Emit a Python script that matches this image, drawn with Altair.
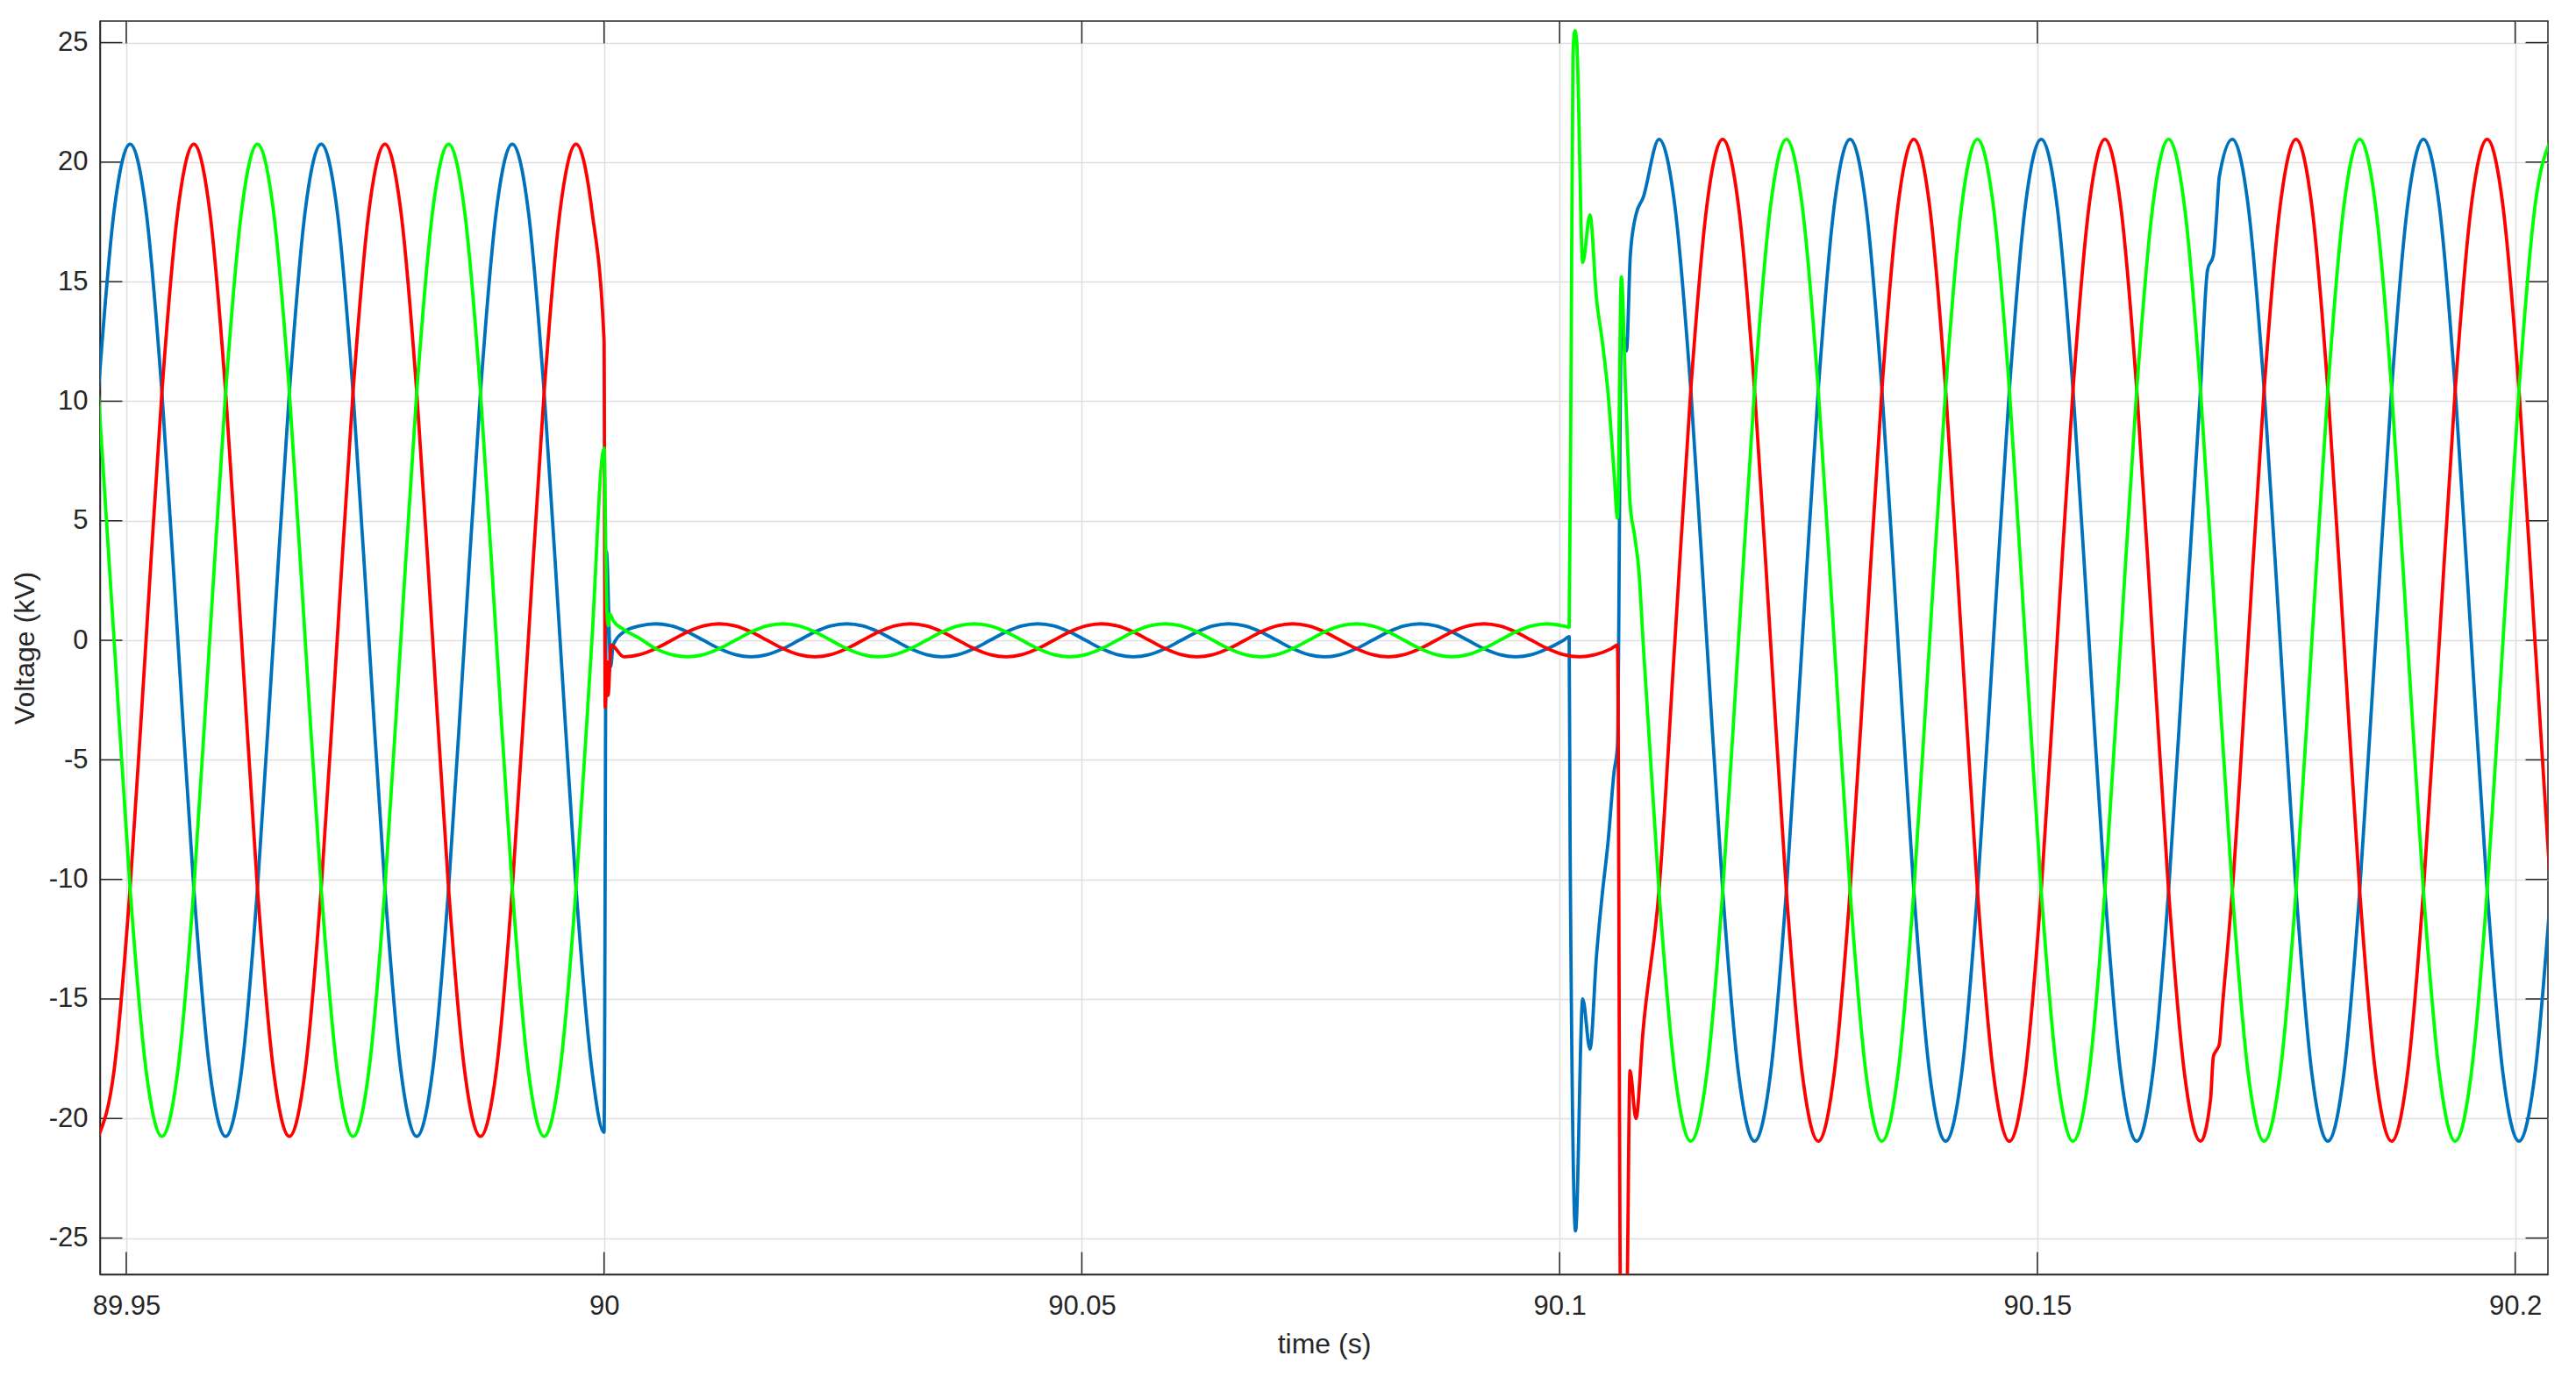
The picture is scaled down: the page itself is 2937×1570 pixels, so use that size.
import altair as alt
import pandas as pd

# ---------------- axis ticks ----------------
X_TICKS = [89.95, 90.0, 90.05, 90.1, 90.15, 90.2]
Y_TICKS = [-25, -20, -15, -10, -5, 0, 5, 10, 15, 20, 25]
X_DOMAIN = [89.94725, 90.20343]
Y_DOMAIN = [-26.52, 25.9]

# ---------------- sample times (s) ----------------
GRID_PRE_T = [89.94707, 89.94873, 89.95040, 89.95207, 89.95373, 89.95540, 89.95707, 89.95873,
              89.96040, 89.96207, 89.96373, 89.96540, 89.96707, 89.96873, 89.97040, 89.97207,
              89.97373, 89.97540, 89.97707, 89.97873, 89.98040, 89.98207, 89.98373, 89.98540,
              89.98707, 89.98873, 89.99040, 89.99207, 89.99373, 89.99540, 89.99707, 89.99873]

GRID_INT_T = [90.00207, 90.00373, 90.00540, 90.00707, 90.00873, 90.01040, 90.01207, 90.01373,
              90.01540, 90.01707, 90.01873, 90.02040, 90.02207, 90.02373, 90.02540, 90.02707,
              90.02873, 90.03040, 90.03207, 90.03373, 90.03540, 90.03707, 90.03873, 90.04040,
              90.04207, 90.04373, 90.04540, 90.04707, 90.04873, 90.05040, 90.05207, 90.05373,
              90.05540, 90.05707, 90.05873, 90.06040, 90.06207, 90.06373, 90.06540, 90.06707,
              90.06873, 90.07040, 90.07207, 90.07373, 90.07540, 90.07707, 90.07873, 90.08040,
              90.08207, 90.08373, 90.08540, 90.08707, 90.08873, 90.09040, 90.09207, 90.09373,
              90.09540, 90.09707, 90.09873, 90.10040]

GRID_POST_T = [90.10873, 90.11040, 90.11207, 90.11373, 90.11540, 90.11707, 90.11873, 90.12040,
               90.12207, 90.12373, 90.12540, 90.12707, 90.12873, 90.13040, 90.13207, 90.13373,
               90.13540, 90.13707, 90.13873, 90.14040, 90.14207, 90.14373, 90.14540, 90.14707,
               90.14873, 90.15040, 90.15207, 90.15373, 90.15540, 90.15707, 90.15873, 90.16040,
               90.16207, 90.16373, 90.16540, 90.16707, 90.16873, 90.17040, 90.17207, 90.17373,
               90.17540, 90.17707, 90.17873, 90.18040, 90.18207, 90.18373, 90.18540, 90.18707,
               90.18873, 90.19040, 90.19207, 90.19373, 90.19540, 90.19707, 90.19873, 90.20040,
               90.20207, 90.20373]

# ---------------- phase voltages (kV) on the sample times ----------------
BLUE_PRE = [10.38, 17.97,
            20.75, 17.97, 10.38, 0, -10.38, -17.97, -20.75, -17.97, -10.38, 0, 10.38, 17.97,
            20.75, 17.97, 10.38, 0, -10.38, -17.97, -20.75, -17.97, -10.38, 0, 10.38, 17.97,
            20.75, 17.97, 10.38, 0, -10.38, -17.97]
RED_PRE = [-20.75, -17.97,
           -10.38, 0, 10.38, 17.97, 20.75, 17.97, 10.38, 0, -10.38, -17.97, -20.75, -17.97,
           -10.38, 0, 10.38, 17.97, 20.75, 17.97, 10.38, 0, -10.38, -17.97, -20.75, -17.97,
           -10.38, 0, 10.38, 17.97, 20.75, 17.97]
GREEN_PRE = [10.38, 0,
             -10.38, -17.97, -20.75, -17.97, -10.38, 0, 10.38, 17.97, 20.75, 17.97, 10.38, 0,
             -10.38, -17.97, -20.75, -17.97, -10.38, 0, 10.38, 17.97, 20.75, 17.97, 10.38, 0,
             -10.38, -17.97, -20.75, -17.97, -10.38, 0]

BLUE_INT = [0.35, 0.60, 0.69, 0.60, 0.35,
            0, -0.35, -0.60, -0.69, -0.60, -0.35, 0, 0.35, 0.60, 0.69, 0.60, 0.35,
            0, -0.35, -0.60, -0.69, -0.60, -0.35, 0, 0.35, 0.60, 0.69, 0.60, 0.35,
            0, -0.35, -0.60, -0.69, -0.60, -0.35, 0, 0.35, 0.60, 0.69, 0.60, 0.35,
            0, -0.35, -0.60, -0.69, -0.60, -0.35, 0, 0.35, 0.60, 0.69, 0.60, 0.35,
            0, -0.35, -0.60, -0.69, -0.60, -0.35, 0]
RED_INT = [-0.69, -0.60, -0.35, 0, 0.35,
           0.60, 0.69, 0.60, 0.35, 0, -0.35, -0.60, -0.69, -0.60, -0.35, 0, 0.35,
           0.60, 0.69, 0.60, 0.35, 0, -0.35, -0.60, -0.69, -0.60, -0.35, 0, 0.35,
           0.60, 0.69, 0.60, 0.35, 0, -0.35, -0.60, -0.69, -0.60, -0.35, 0, 0.35,
           0.60, 0.69, 0.60, 0.35, 0, -0.35, -0.60, -0.69, -0.60, -0.35, 0, 0.35,
           0.60, 0.69, 0.60, 0.35, 0, -0.35, -0.60]
GREEN_INT = [0.45, 0.08, -0.35, -0.60, -0.69,
             -0.60, -0.35, 0, 0.35, 0.60, 0.69, 0.60, 0.35, 0, -0.35, -0.60, -0.69,
             -0.60, -0.35, 0, 0.35, 0.60, 0.69, 0.60, 0.35, 0, -0.35, -0.60, -0.69,
             -0.60, -0.35, 0, 0.35, 0.60, 0.69, 0.60, 0.35, 0, -0.35, -0.60, -0.69,
             -0.60, -0.35, 0, 0.35, 0.60, 0.69, 0.60, 0.35, 0, -0.35, -0.60, -0.69,
             -0.60, -0.35, 0, 0.35, 0.60, 0.69, 0.60]

BLUE_POST = [18.5,
             20.95, 18.14, 10.48, 0, -10.48, -18.14, -20.95, -18.14, -10.48, 0, 10.48, 18.14,
             20.95, 18.14, 10.48, 0, -10.48, -18.14, -20.95, -18.14, -10.48, 0, 10.48, 18.14,
             20.95, 18.14, 10.48, 0, -10.48, -18.14, -20.95, -18.14, -10.48, 0, 10.48, 17.6,
             20.95, 18.14, 10.48, 0, -10.48, -18.14, -20.95, -18.14, -10.48, 0, 10.48, 18.14,
             20.95, 18.14, 10.48, 0, -10.48, -18.14, -20.95, -18.14, -10.48]
RED_POST = [-16.35,
            -10.48, 0, 10.48, 18.14, 20.95, 18.14, 10.48, 0, -10.48, -18.14, -20.95, -18.14,
            -10.48, 0, 10.48, 18.14, 20.95, 18.14, 10.48, 0, -10.48, -18.14, -20.95, -18.14,
            -10.48, 0, 10.48, 18.14, 20.95, 18.14, 10.48, 0, -10.48, -18.14, -20.95, -17.15,
            -10.48, 0, 10.48, 18.14, 20.95, 18.14, 10.48, 0, -10.48, -18.14, -20.95, -18.14,
            -10.48, 0, 10.48, 18.14, 20.95, 18.14, 10.48, 0, -10.48]
GREEN_POST = [0,
              -10.48, -18.14, -20.95, -18.14, -10.48, 0, 10.48, 18.14, 20.95, 18.14, 10.48, 0,
              -10.48, -18.14, -20.95, -18.14, -10.48, 0, 10.48, 18.14, 20.95, 18.14, 10.48, 0,
              -10.48, -18.14, -20.95, -18.14, -10.48, 0, 10.48, 18.14, 20.95, 18.14, 10.48, 0,
              -10.48, -18.14, -20.95, -18.14, -10.48, 0, 10.48, 18.14, 20.95, 18.14, 10.48, 0,
              -10.48, -18.14, -20.95, -18.14, -10.48, 0, 10.48, 18.14, 20.95]

# ---------------- switching transients (time, kV) ----------------
BLUE_EVT_T = [90.00000, 90.00025, 90.00070, 90.00095,
              90.10100, 90.10110, 90.10167, 90.10242, 90.10318, 90.10386, 90.10447, 90.10508,
              90.10570, 90.10606, 90.10646, 90.10700, 90.10740, 90.10799,
              90.16781, 90.16842, 90.16904]
BLUE_EVT_V = [-20.58, 3.7, -1.1, -0.2,
              0.15, -8.6, -24.7, -15.0, -17.1, -13.2, -10.6, -8.4,
              -5.5, -4.4, 13.2, 12.1, 16.1, 17.8,
              15.5, 16.1, 19.4]

RED_EVT_T = [90.00000, 90.00012, 90.00030, 90.00042, 90.00074,
             90.10207, 90.10373, 90.10540, 90.10606, 90.10640, 90.10700, 90.10737, 90.10799,
             90.16812, 90.16842, 90.16904, 90.16935]
RED_EVT_V = [12.55, -2.8, -0.9, -2.3, -0.2,
             -0.69, -0.60, -0.35, -0.2, -29.0, -28.5, -18.0, -20.0,
             -19.2, -17.4, -16.9, -15.4]

GREEN_EVT_T = [90.00000, 90.00030, 90.00045, 90.00060, 90.00100,
               90.10100, 90.10121, 90.10140, 90.10160, 90.10180, 90.10242, 90.10318, 90.10386,
               90.10447, 90.10508, 90.10570, 90.10606, 90.10646, 90.10692, 90.10738, 90.10784,
               90.10830]
GREEN_EVT_V = [8.04, 1.2, 0.6, 1.1, 0.8,
               0.55, 12.0, 24.5, 25.5, 25.0, 15.8, 17.8, 14.3,
               12.5, 10.3, 7.0, 5.1, 15.2, 10.3, 5.7, 4.4,
               2.9]

BLUE = "#0072BD"
RED = "#FF0000"
GREEN = "#00FF00"
INK = "#262626"
FONT = "Liberation Sans"


def build(parts):
    ts, vs = [], []
    for tl, vl in parts:
        assert len(tl) == len(vl), (len(tl), len(vl))
        ts += list(tl)
        vs += list(vl)
    return pd.DataFrame({"t": ts, "v": vs}).sort_values("t").reset_index(drop=True)


blue_df = build([(GRID_PRE_T, BLUE_PRE), (GRID_INT_T, BLUE_INT), (GRID_POST_T, BLUE_POST),
                 (BLUE_EVT_T, BLUE_EVT_V)])
red_df = build([(GRID_PRE_T, RED_PRE), (GRID_INT_T, RED_INT), (GRID_POST_T[1:], RED_POST[1:]),
                ([GRID_POST_T[0]], [RED_POST[0]]), (RED_EVT_T, RED_EVT_V)])
green_df = build([(GRID_PRE_T, GREEN_PRE), (GRID_INT_T, GREEN_INT), (GRID_POST_T, GREEN_POST),
                  (GREEN_EVT_T, GREEN_EVT_V)])

W, H = 2791, 1429
TICK = 25.5

xs = alt.Scale(domain=X_DOMAIN, nice=False, zero=False)
ys = alt.Scale(domain=Y_DOMAIN, nice=False, zero=False)

x_axis = alt.Axis(values=X_TICKS, labelExpr="format(datum.value, '.2~f')", grid=True,
                  ticks=False, tickSize=0, labelPadding=21, labelFontSize=31, labelFont=FONT,
                  labelColor=INK, labelFlush=False, labelOverlap=False, labelBound=False,
                  title="time (s)", titleFont=FONT, titleFontSize=32, titleFontWeight="normal",
                  titleColor=INK, titlePadding=13, domainColor=INK, domainWidth=1.5,
                  gridColor="#dfdfdf", gridWidth=1.5)
y_axis = alt.Axis(values=Y_TICKS,
                  labelExpr="datum.value < 0 ? '-' + format(-datum.value, 'd') : format(datum.value, 'd')",
                  grid=True, ticks=False, tickSize=0, labelPadding=14, labelFontSize=31,
                  labelFont=FONT, labelColor=INK, labelFlush=False, labelOverlap=False,
                  labelBound=False, title="Voltage (kV)", titleFont=FONT, titleFontSize=32,
                  titleFontWeight="normal", titleColor=INK, titlePadding=10, domainColor=INK,
                  domainWidth=1.5, gridColor="#dfdfdf", gridWidth=1.5)

X = alt.X("t:Q", scale=xs, axis=x_axis)
Y = alt.Y("v:Q", scale=ys, axis=y_axis)


def line(df, color):
    return alt.Chart(df).mark_line(color=color, strokeWidth=3.8, interpolate="monotone",
                                   clip=True, strokeJoin="round").encode(x=X, y=Y)


ytick_df = pd.DataFrame({"v": Y_TICKS})
xtick_df = pd.DataFrame({"t": X_TICKS})

ytl = alt.Chart(ytick_df).mark_rule(color=INK, strokeWidth=1.5).encode(
    y=Y, x=alt.value(0), x2=alt.value(TICK))
ytr = alt.Chart(ytick_df).mark_rule(color=INK, strokeWidth=1.5).encode(
    y=Y, x=alt.value(W - TICK), x2=alt.value(W))
xtb = alt.Chart(xtick_df).mark_rule(color=INK, strokeWidth=1.5).encode(
    x=X, y=alt.value(H - TICK), y2=alt.value(H))
xtt = alt.Chart(xtick_df).mark_rule(color=INK, strokeWidth=1.5).encode(
    x=X, y=alt.value(0), y2=alt.value(TICK))

chart = alt.layer(
    ytl, ytr, xtb, xtt,
    line(blue_df, BLUE), line(red_df, RED), line(green_df, GREEN)
).properties(
    width=W, height=H,
    autosize=alt.AutoSizeParams(type="none"),
    padding={"left": 106, "top": 16, "right": 24, "bottom": 100},
    background="white",
).configure_view(stroke=INK, strokeWidth=1.5)

chart.save("out.html", embed_options={"renderer": "svg", "actions": False})
